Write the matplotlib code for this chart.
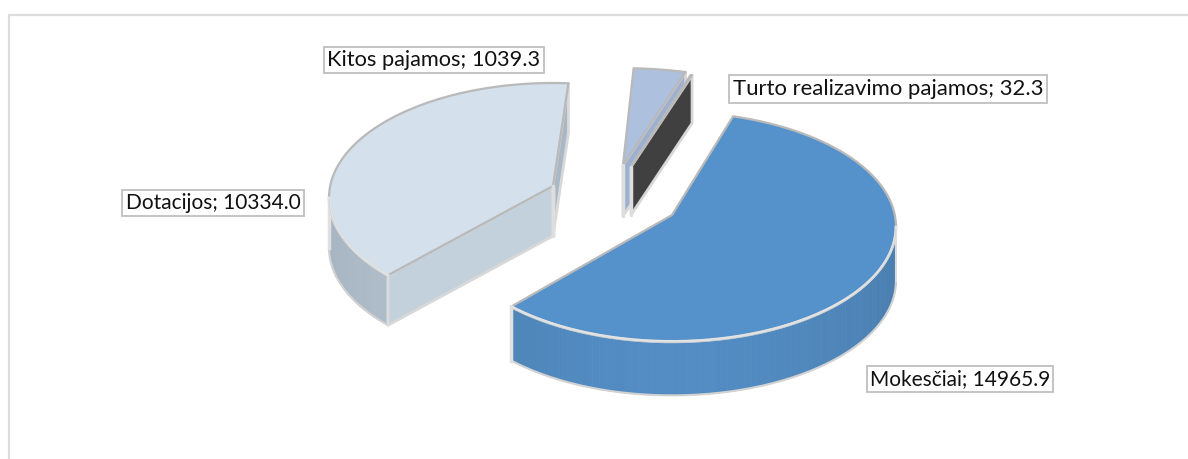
import numpy as np
import matplotlib
matplotlib.use('Agg')
import matplotlib.pyplot as plt
from matplotlib.collections import PolyCollection

labels = ['Mokesčiai', 'Dotacijos', 'Kitos pajamos', 'Turto realizavimo pajamos']
values = [14965.9, 10334.0, 1039.3, 32.3]

# look of each slice, in pixels of the picture
apex_x = [672, 553, 623, 631]
apex_y = [215, 186, 165, 167]
scale_x = [1.0, 1.0, 1.05, 1.0]
scale_y = [1.0, 1.0, 0.94, 0.93]
turn = [0, 1.5, 0, 0]
depth = [54, 50, 51, 48]
top_colors = ['#5592cb', '#d4e0ec', '#adc0de', '#dfe3e8']
wall_light = ['#528cc2', '#b6c4d0', '#9db0cf', '#9db0cf']
wall_dark = ['#4a7eaf', '#a7b5c2', '#9db0cf', '#9db0cf']
start_face = [None, '#c3d1dc', None, None]
end_face = [None, '#aab8c6', '#9db0cf', '#404040']

label_x = [960, 213, 434, 888]
label_y = [379, 203, 60, 89]
label_size = [15, 15, 15.7, 15.9]

start_angle = 17.5
rx = 222.8
ry = 113.5
persp = 0.102


def rim(i, t):
    u = np.sin(t)
    v = np.cos(t)
    d = 1 + persp * v
    return apex_x[i] + scale_x[i] * rx * u / d, apex_y[i] - scale_y[i] * ry * v / d


def mix(c1, c2, f):
    a = np.array(matplotlib.colors.to_rgb(c1))
    b = np.array(matplotlib.colors.to_rgb(c2))
    return a + (b - a) * f


def face(ax, i, t, color):
    x, y = rim(i, t)
    d = depth[i]
    ax.fill([apex_x[i], x, x, apex_x[i]], [apex_y[i], y, y + d, apex_y[i] + d],
            facecolor=color, edgecolor='#d8d8d8', lw=2, joinstyle='round')
    ax.plot([apex_x[i], apex_x[i]], [apex_y[i], apex_y[i] + d], color='#dedede', lw=2.5, solid_capstyle='round')


def draw_slice(ax, i, t0, t1):
    ts = np.linspace(t0, t1, 240)
    x, y = rim(i, ts)
    d = depth[i]

    # curved wall, only the part that faces the viewer
    front = np.cos(ts) < -persp
    if front.any():
        fx, fy = x[front], y[front]
        us = np.abs(np.sin(ts[front]))
        quads = [[(fx[k], fy[k]), (fx[k + 1], fy[k + 1]), (fx[k + 1], fy[k + 1] + d), (fx[k], fy[k] + d)]
                 for k in range(len(fx) - 1)]
        cols = [mix(wall_light[i], wall_dark[i], us[k] ** 2) for k in range(len(fx) - 1)]
        ax.add_collection(PolyCollection(quads, facecolors=cols, edgecolors=cols, linewidths=0.6))
        ax.plot(fx, fy + d, color='#d2d2d2', lw=1.5)
        ax.plot([fx[-1], fx[-1]], [fy[-1], fy[-1] + d], color='#e0e0e0', lw=2.5)
        ax.plot([fx[0], fx[0]], [fy[0], fy[0] + d], color='#dcdcdc', lw=1.5)

    if start_face[i]:
        face(ax, i, t0, start_face[i])
    if end_face[i]:
        face(ax, i, t1, end_face[i])

    # top of the slice
    ax.fill(np.r_[apex_x[i], x], np.r_[apex_y[i], y], facecolor=top_colors[i],
            edgecolor='#b9b9b9', lw=1.6, joinstyle='round')
    if front.any():
        ax.plot(x[front], y[front], color='#e2e2e2', lw=2)
        ax.plot(x[front], y[front] + 1.5, color='#cfd3d6', lw=0.5)


plt.rcParams['font.family'] = ['Lato', 'DejaVu Sans']
fig = plt.figure(figsize=(11.88, 4.59), dpi=100)
ax = fig.add_axes([0, 0, 1, 1])
ax.set_xlim(0, 1188)
ax.set_ylim(459, 0)
ax.axis('off')

ax.plot([8.5, 8.5, 1188], [459, 14.5, 14.5], color='#dcdcdc', lw=1.6)

angles = np.radians(start_angle + np.r_[0, np.cumsum(values)] / sum(values) * 360)
for i in [1, 2, 3, 0]:
    draw_slice(ax, i, angles[i] + np.radians(turn[i]), angles[i + 1] + np.radians(turn[i]))

for i in range(len(labels)):
    ax.text(label_x[i], label_y[i], f'{labels[i]}; {values[i]:.1f}', ha='center', va='center',
            fontsize=label_size[i], color='#111111',
            bbox=dict(boxstyle='square,pad=0.16', facecolor='white', edgecolor='#bfbfbf', lw=1.3))

plt.savefig('out.png', dpi=100)
